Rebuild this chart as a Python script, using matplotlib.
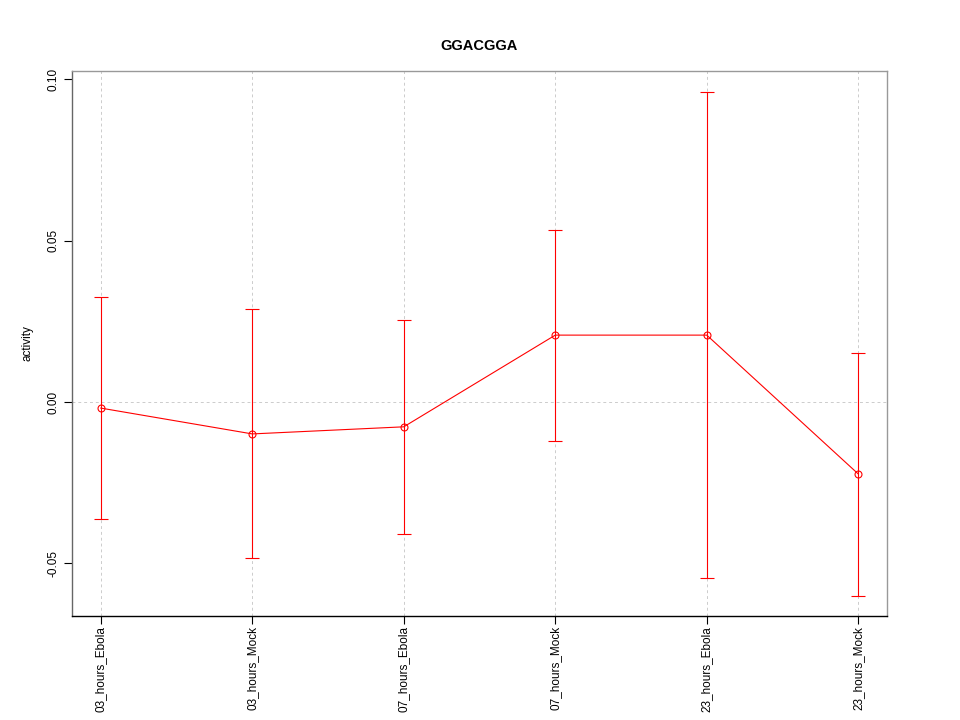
import matplotlib
matplotlib.use("Agg")
import matplotlib.pyplot as plt
import numpy as np

# values
conditions = ["03_hours_Ebola", "03_hours_Mock", "07_hours_Ebola",
              "07_hours_Mock", "23_hours_Ebola", "23_hours_Mock"]
activity = [-0.0019, -0.0099, -0.0077, 0.0207, 0.0207, -0.0223]
upper = [0.0325, 0.0288, 0.0254, 0.0533, 0.0960, 0.0152]
lower = [-0.0362, -0.0483, -0.0409, -0.0121, -0.0545, -0.0601]
yticks = [-0.05, 0.0, 0.05, 0.10]

plt.rcParams['font.family'] = ['Liberation Sans', 'DejaVu Sans']

fig = plt.figure(figsize=(9.6, 7.2), dpi=100)
ax = fig.add_axes([0.075, 0.1444, 0.849, 0.757])

x = np.arange(len(conditions))
act = np.array(activity)
err = [act - np.array(lower), np.array(upper) - act]

for xv in x:
    ax.axvline(xv, color='#cccccc', linestyle=(0, (3, 3)), linewidth=0.7, zorder=0)
ax.axhline(0.0, color='#cccccc', linestyle=(0, (3, 3)), linewidth=0.7, zorder=0)

ax.errorbar(x, act, yerr=err, color='red', linewidth=0.8, elinewidth=0.8,
            capsize=5.2, capthick=0.8, marker='o', markersize=5,
            markerfacecolor='none', markeredgecolor='red', markeredgewidth=0.8)

ax.set_xlim(-0.19, 5.19)
ax.set_ylim(-0.0663, 0.1025)
ax.set_xticks(x)
ax.set_xticklabels(conditions, rotation=90, fontsize=8.5)
ax.set_yticks(yticks)
ax.set_yticklabels(["-0.05", "0.00", "0.05", "0.10"], rotation=90,
                   va='center', fontsize=8.5)
ax.tick_params(length=6, width=0.8, pad=3)
ax.tick_params(axis='x', pad=1)
ax.set_ylabel("activity", fontsize=8.5, labelpad=10)
ax.set_title("GGACGGA", fontsize=10.5, fontweight='bold', pad=15)

ax.spines['left'].set_color('#666666')
ax.spines['top'].set_color('#999999')
ax.spines['right'].set_color('#999999')
ax.spines['bottom'].set_color('black')
for s in ax.spines.values():
    s.set_linewidth(1.0)

fig.savefig("out.png", dpi=100)
